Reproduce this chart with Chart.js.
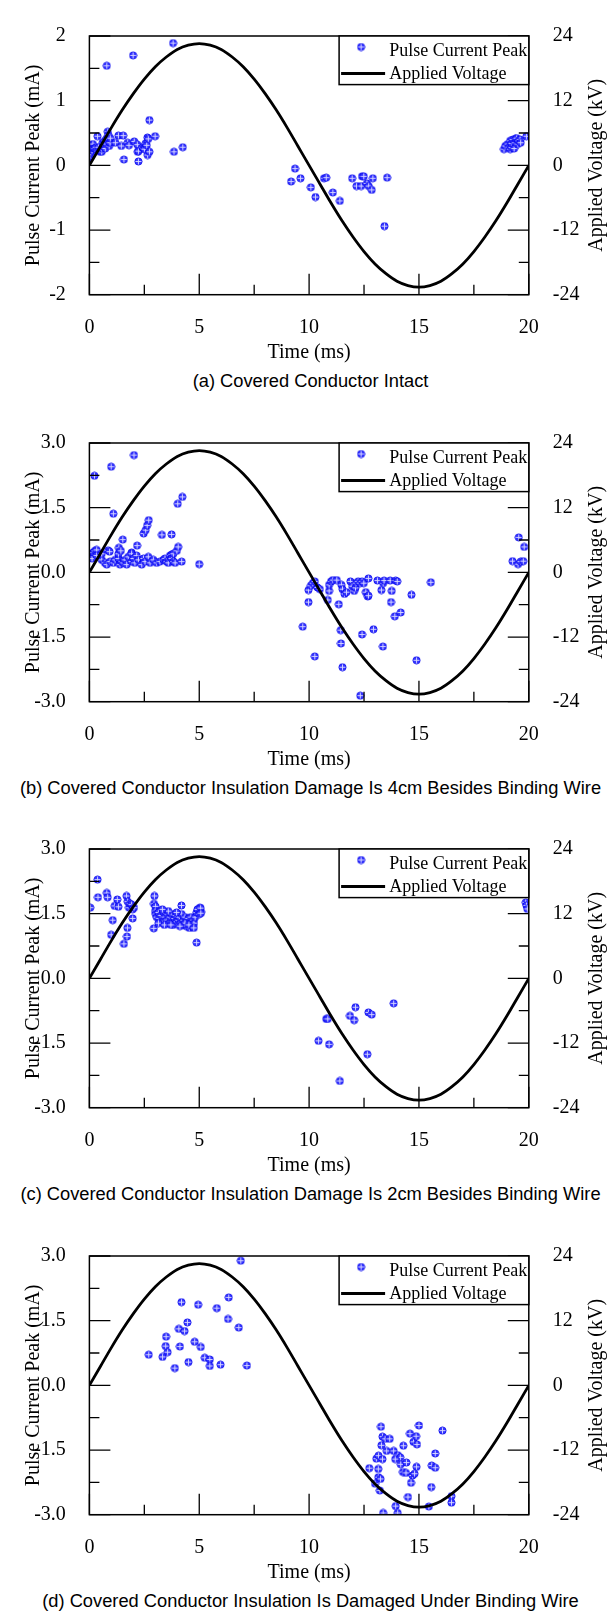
<!DOCTYPE html>
<html>
<head>
<meta charset="utf-8">
<script src="https://cdn.jsdelivr.net/npm/chart.js@4.4.1/dist/chart.umd.min.js"></script>
<style>
  body { margin: 0; width: 607px; height: 1612px; background: #fff; position: relative; overflow: hidden; }
  .panel { position: absolute; left: 0; width: 607px; height: 407px; }
  .panel canvas { position: absolute; left: 0; top: 0; }
  .caption {
    position: absolute; top: 370px; left: 310.5px; transform: translateX(-50%);
    white-space: nowrap; font-family: 'Liberation Sans', Arial, sans-serif;
    font-size: 18.3px; line-height: 22px; color: #000;
  }
</style>
</head>
<body>

<div class="panel" style="top:0px"><canvas id="chartA" width="607" height="370"></canvas>
  <div class="caption">(a) Covered Conductor Intact</div></div>
<div class="panel" style="top:407px"><canvas id="chartB" width="607" height="370"></canvas>
  <div class="caption">(b) Covered Conductor Insulation Damage Is 4cm Besides Binding Wire</div></div>
<div class="panel" style="top:813.3px"><canvas id="chartC" width="607" height="370"></canvas>
  <div class="caption">(c) Covered Conductor Insulation Damage Is 2cm Besides Binding Wire</div></div>
<div class="panel" style="top:1220px"><canvas id="chartD" width="607" height="370"></canvas>
  <div class="caption">(d) Covered Conductor Insulation Is Damaged Under Binding Wire</div></div>

<script>
// tick labels
const timeTicks = [0, 5, 10, 15, 20];
const currentTicksA = [-2, -1, 0, 1, 2];
const currentTicks = [-3, -1.5, 0, 1.5, 3];
const voltageTicks = [-24, -12, 0, 12, 24];

// applied voltage, one point every 0.5 ms (kV)
const voltageTime = [0, 0.5, 1, 1.5, 2, 2.5, 3, 3.5, 4, 4.5, 5, 5.5, 6, 6.5, 7, 7.5, 8, 8.5, 9, 9.5,
  10, 10.5, 11, 11.5, 12, 12.5, 13, 13.5, 14, 14.5, 15, 15.5, 16, 16.5, 17, 17.5, 18, 18.5, 19, 19.5, 20];
const voltage = [0, 3.5, 7.0, 10.3, 13.3, 16.0, 18.3, 20.1, 21.5, 22.3, 22.6, 22.3, 21.5, 20.1, 18.3, 16.0, 13.3, 10.3, 7.0, 3.5,
  0, -3.5, -7.0, -10.3, -13.3, -16.0, -18.3, -20.1, -21.5, -22.3, -22.6, -22.3, -21.5, -20.1, -18.3, -16.0, -13.3, -10.3, -7.0, -3.5, 0];

// pulse current peaks [time ms, current mA]
const peaksA = [
  [0.00,0.11],[0.03,0.16],[0.06,0.20],[0.04,0.26],[0.07,0.30],[0.10,0.31],[0.12,0.23],[0.13,0.27],[0.16,0.33],[0.21,0.26],
  [0.25,0.26],[0.30,0.28],[0.37,0.45],[0.41,0.28],[0.48,0.21],[0.56,0.21],[0.56,0.26],[0.60,0.35],[0.63,0.33],[0.65,0.29],
  [0.69,0.30],[0.71,0.38],[0.72,0.26],[0.78,0.40],[0.79,0.42],[0.79,0.33],[0.83,0.52],[0.86,0.47],[0.90,0.30],[0.92,0.35],
  [0.94,0.35],[0.95,0.42],[0.79,1.54],[1.18,0.35],[1.32,0.46],[1.45,0.30],[1.54,0.46],[1.57,0.09],[1.74,0.35],[1.80,0.31],
  [1.99,1.70],[2.04,0.37],[2.18,0.32],[2.20,0.21],[2.23,0.06],[2.23,0.22],[2.41,0.28],[2.47,0.26],[2.50,0.25],[2.56,0.34],
  [2.61,0.31],[2.64,0.43],[2.65,0.16],[2.68,0.41],[2.73,0.70],[2.73,0.21],[2.99,0.45],[3.81,1.89],[3.85,0.21],[4.25,0.28],
  [9.18,-0.25],[9.36,-0.05],[9.61,-0.20],[10.08,-0.34],[10.29,-0.49],[10.68,-0.20],[10.78,-0.19],[11.08,-0.42],[11.40,-0.55],
  [11.96,-0.20],[12.16,-0.32],[12.37,-0.32],[12.41,-0.17],[12.49,-0.17],[12.63,-0.28],[12.71,-0.32],[12.85,-0.38],[12.90,-0.20],
  [13.43,-0.94],[13.55,-0.19],
  [18.87,0.25],[18.93,0.30],[19.05,0.33],[19.10,0.28],[19.15,0.38],[19.15,0.25],[19.22,0.28],[19.22,0.34],[19.28,0.40],
  [19.33,0.26],[19.37,0.35],[19.40,0.41],[19.45,0.42],[19.50,0.33],[19.54,0.38],[19.60,0.40],[19.63,0.35],[19.89,0.45]
];

const peaksB = [
  [0.07,0.41],[0.10,0.43],[0.12,0.32],[0.18,0.46],[0.23,2.24],[0.25,0.50],[0.33,0.52],[0.33,0.39],[0.56,0.29],[0.56,0.43],
  [0.71,0.22],[0.79,0.18],[0.85,0.51],[0.92,0.48],[0.94,0.25],[0.99,2.45],[1.09,0.22],[1.09,1.36],[1.17,0.29],[1.32,0.32],
  [1.32,0.43],[1.34,0.57],[1.39,0.18],[1.43,0.50],[1.47,0.25],[1.52,0.76],[1.54,0.22],[1.62,0.29],[1.70,0.18],[1.77,0.36],
  [1.92,0.46],[1.92,0.25],[1.92,0.43],[2.00,0.32],[2.03,2.72],[2.07,0.22],[2.15,0.39],[2.17,0.62],[2.23,0.29],[2.38,0.18],
  [2.46,0.32],[2.47,0.90],[2.53,0.25],[2.56,0.98],[2.63,1.09],[2.68,0.36],[2.70,1.21],[2.76,0.22],[2.91,0.29],[3.06,0.22],
  [3.21,0.25],[3.30,0.87],[3.37,0.29],[3.44,0.32],[3.52,0.25],[3.59,0.22],[3.67,0.39],[3.74,0.88],[3.74,0.41],[3.74,0.32],
  [3.82,0.25],[3.82,0.43],[3.90,0.22],[3.98,0.50],[4.02,1.59],[4.04,0.59],[4.20,0.25],[4.23,1.75],[5.00,0.19],
  [9.71,-1.26],[9.97,-0.69],[9.97,-0.41],[10.08,-0.31],[10.17,-0.25],[10.26,-0.21],[10.26,-1.95],[10.38,-0.35],[10.49,-0.39],
  [10.85,-0.64],[10.91,-0.43],[10.91,-0.29],[11.00,-0.21],[11.08,-0.18],[11.26,-0.18],[11.35,-0.74],[11.44,-1.34],[11.45,-1.65],
  [11.47,-0.29],[11.52,-0.39],[11.52,-2.20],[11.61,-0.50],[11.70,-0.46],[11.88,-0.21],[11.96,-0.32],[12.05,-0.43],[12.11,-0.36],
  [12.14,-0.25],[12.23,-0.21],[12.32,-0.25],[12.33,-2.86],[12.41,-0.21],[12.41,-1.44],[12.49,-0.25],[12.58,-0.46],[12.67,-0.56],
  [12.70,-0.54],[12.70,-0.14],[12.93,-1.32],[13.11,-0.19],[13.29,-0.41],[13.36,-1.72],[13.37,-0.25],[13.41,-0.19],[13.69,-0.19],
  [13.73,-0.69],[13.76,-0.43],[13.90,-1.02],[13.94,-0.19],[14.01,-0.21],[14.17,-0.93],[14.66,-0.52],[14.89,-2.04],[15.54,-0.23],
  [19.26,0.26],[19.51,0.19],[19.54,0.81],[19.63,0.25],[19.75,0.26],[19.79,0.59]
];

const peaksC = [
  [0.04,1.64],[0.37,2.29],[0.39,1.88],[0.79,1.98],[0.83,1.88],[0.99,1.01],[1.06,1.35],[1.15,1.68],[1.27,1.83],[1.32,1.66],
  [1.57,0.80],[1.69,1.91],[1.71,0.97],[1.73,1.17],[1.74,1.78],[1.80,1.64],[1.85,1.73],[1.92,1.71],[1.97,1.60],[1.97,1.39],
  [2.03,1.64],[2.93,1.16],[2.94,1.73],[2.96,1.91],[3.01,1.67],
  [2.99,1.56],[3.02,1.49],[3.06,1.42],[3.14,1.53],[3.17,1.39],[3.26,1.46],[3.32,1.31],[3.37,1.53],[3.44,1.42],[3.52,1.35],
  [3.56,1.49],[3.62,1.28],[3.67,1.42],[3.74,1.49],[3.77,1.31],[3.82,1.24],[3.87,1.39],[3.93,1.46],[3.97,1.31],[4.05,1.35],
  [4.09,1.42],[4.15,1.28],[4.20,1.49],[4.23,1.24],[4.29,1.35],[4.35,1.42],[4.40,1.21],[4.44,1.31],[4.50,1.39],[4.55,1.17],
  [4.59,1.28],[4.62,1.42],[4.67,1.21],[4.72,1.35],[4.76,1.28],[4.81,1.42],[4.88,1.53],[4.96,1.60],[5.03,1.64],[5.08,1.54],
  [3.14,1.28],[3.41,1.24],[3.71,1.24],[4.35,1.28],[4.53,1.24],[4.12,1.21],[4.75,1.17],[3.59,1.56],[3.97,1.53],[3.32,1.60],
  [4.19,1.69],[4.88,0.83],[4.92,1.60],[5.00,1.49],[5.06,1.63],[5.07,1.51],
  [10.43,-1.45],[10.78,-0.94],[10.85,-0.94],[10.91,-1.53],[11.40,-2.38],[11.86,-0.87],[12.05,-0.97],[12.11,-0.67],
  [12.65,-1.76],[12.70,-0.79],[12.85,-0.84],[13.85,-0.58],
  [19.86,1.76],[19.89,1.69],[19.93,1.61]
];

const peaksD = [
  [6.89,2.89],[4.19,1.93],[4.95,1.87],[5.80,1.79],[6.34,2.04],[6.31,1.54],[6.80,1.34],[4.46,1.46],[4.07,1.31],[4.33,1.26],
  [3.49,1.13],[4.79,1.01],[3.47,0.91],[4.12,0.90],[5.07,0.89],[3.56,0.77],[2.70,0.71],[3.33,0.66],[5.25,0.64],[5.48,0.60],
  [4.51,0.54],[3.89,0.40],[5.48,0.45],[5.97,0.48],[7.17,0.46],
  [13.27,-0.96],[13.34,-1.19],[13.46,-1.24],[13.67,-1.24],[13.29,-1.39],[13.53,-1.52],[13.85,-1.52],[14.04,-1.62],[14.15,-1.67],
  [13.92,-1.71],[13.06,-1.70],[13.16,-1.63],[13.34,-1.71],[12.74,-1.92],[13.15,-1.94],[14.17,-1.83],[14.27,-2.01],[14.41,-2.03],
  [14.43,-1.79],[14.29,-1.40],[14.59,-1.12],[14.75,-1.31],[14.87,-1.18],[14.91,-1.37],[15.00,-0.93],[14.89,-1.89],[14.71,-2.09],
  [14.80,-2.05],[14.64,-2.26],[13.15,-2.13],[13.25,-2.17],[13.00,-2.28],[13.22,-2.44],[15.58,-1.86],[15.74,-1.91],[15.74,-1.58],
  [16.07,-1.05],[15.56,-2.36],[14.50,-2.59],[13.94,-2.80],[15.45,-2.81],[16.48,-2.57],[16.48,-2.72],[13.37,-2.96],[14.03,-2.96]
];

const serif = 'Liberation Serif, Times New Roman, serif';

// blue circle-plus marker
const marker = document.createElement('canvas');
marker.width = 9; marker.height = 9;
(function () {
  const m = marker.getContext('2d');
  m.fillStyle = '#3a3aff';
  m.beginPath(); m.arc(4.5, 4.5, 3.6, 0, Math.PI * 2); m.fill();
  m.strokeStyle = '#0000ee'; m.lineWidth = 0.8; m.stroke();
  m.strokeStyle = 'rgba(215,215,255,0.95)'; m.lineWidth = 1;
  m.beginPath(); m.moveTo(4.5, 1.5); m.lineTo(4.5, 7.5); m.moveTo(1.5, 4.5); m.lineTo(7.5, 4.5); m.stroke();
})();

// closed frame, inward tick marks, right axis title and legend box
const framePlugin = {
  id: 'framePlugin',
  afterDatasetsDraw(chart) {
    const { ctx, chartArea: a, scales } = chart;
    ctx.save();
    ctx.strokeStyle = '#000';
    ctx.lineWidth = 1.3;
    const marks = (scale, cb) => {
      const vals = scale.ticks.map(t => t.value);
      vals.forEach((v, i) => {
        cb(scale.getPixelForValue(v), 21);
        if (i < vals.length - 1) cb(scale.getPixelForValue((v + vals[i + 1]) / 2), 10);
      });
    };
    ctx.beginPath();
    marks(scales.x, (p, len) => { ctx.moveTo(p, a.bottom); ctx.lineTo(p, a.bottom - len); });
    marks(scales.y, (p, len) => { ctx.moveTo(a.left, p); ctx.lineTo(a.left + len, p); });
    marks(scales.y2, (p, len) => { ctx.moveTo(a.right, p); ctx.lineTo(a.right - len, p); });
    ctx.stroke();
    ctx.lineWidth = 1.5;
    ctx.strokeRect(a.left, a.top, a.right - a.left, a.bottom - a.top);
    ctx.restore();
  },
  afterDraw(chart) {
    const { ctx, chartArea: a } = chart;
    ctx.save();
    // right axis title, read bottom to top
    ctx.fillStyle = '#000';
    ctx.font = '20px ' + serif;
    ctx.textAlign = 'center';
    ctx.textBaseline = 'middle';
    ctx.translate(596.5, (a.top + a.bottom) / 2);
    ctx.rotate(-Math.PI / 2);
    ctx.fillText(chart.options.scales.y2.title.text, 0, 0);
    ctx.restore();

    // legend
    const ds = chart.data.datasets;
    const bx = a.right - 189.7, by = a.top, bw = 189.7, bh = 48.6;
    ctx.save();
    ctx.fillStyle = '#fff';
    ctx.fillRect(bx, by, bw, bh);
    ctx.strokeStyle = '#000';
    ctx.lineWidth = 1.5;
    ctx.strokeRect(bx, by, bw, bh);
    ctx.drawImage(marker, bx + 22 - 4.5, by + 11 - 4.5);
    ctx.lineWidth = 2.8;
    ctx.beginPath();
    ctx.moveTo(bx + 2, by + 37.5);
    ctx.lineTo(bx + 46, by + 37.5);
    ctx.stroke();
    ctx.fillStyle = '#000';
    ctx.font = '18px ' + serif;
    ctx.textAlign = 'left';
    ctx.textBaseline = 'alphabetic';
    ctx.fillText(ds[1].label, bx + 50.2, by + 20.3);
    ctx.fillText(ds[0].label, bx + 50.2, by + 42.8);
    ctx.restore();
  }
};

function makeChart(id, peaks, yTicks, yFormat) {
  const tickFont = { family: serif, size: 20 };
  return new Chart(document.getElementById(id), {
    type: 'scatter',
    data: {
      datasets: [
        {
          type: 'line',
          label: 'Applied Voltage',
          data: voltageTime.map((t, i) => ({ x: t, y: voltage[i] })),
          yAxisID: 'y2',
          borderColor: '#000',
          borderWidth: 2.8,
          pointRadius: 0,
          cubicInterpolationMode: 'monotone',
          order: 0
        },
        {
          label: 'Pulse Current Peak',
          data: peaks.map(p => ({ x: p[0], y: p[1] })),
          yAxisID: 'y',
          pointStyle: marker,
          pointRadius: 4,
          order: 1
        }
      ]
    },
    options: {
      responsive: false,
      animation: false,
      devicePixelRatio: 1,
      layout: { padding: { top: 14.7, left: 0, right: 0, bottom: 0 } },
      plugins: { legend: { display: false }, tooltip: { enabled: false } },
      scales: {
        x: {
          type: 'linear', min: 0, max: 20,
          afterBuildTicks: s => { s.ticks = timeTicks.map(v => ({ value: v })); },
          afterFit: s => { s.height = 75.3; },
          grid: { display: false, drawTicks: false, tickLength: 0 },
          border: { display: false },
          ticks: { padding: 21.3, font: tickFont, color: '#000', maxRotation: 0, autoSkip: false },
          title: { display: true, text: 'Time (ms)', font: tickFont, color: '#000', padding: { top: 0, bottom: 5 } }
        },
        y: {
          position: 'left', min: yTicks[0], max: yTicks[yTicks.length - 1],
          afterBuildTicks: s => { s.ticks = yTicks.map(v => ({ value: v })); },
          afterFit: s => { s.width = 89.4; },
          grid: { display: false, drawTicks: false, tickLength: 0 },
          border: { display: false },
          ticks: { padding: 23.6, font: tickFont, color: '#000', callback: yFormat },
          title: { display: true, text: 'Pulse Current Peak (mA)', font: tickFont, color: '#000', padding: { top: 21.5, bottom: 0 } }
        },
        y2: {
          position: 'right', min: -24, max: 24,
          afterBuildTicks: s => { s.ticks = voltageTicks.map(v => ({ value: v })); },
          afterFit: s => { s.width = 78.2; },
          grid: { display: false, drawTicks: false, tickLength: 0 },
          border: { display: false },
          ticks: { padding: 24, font: tickFont, color: '#000', callback: v => String(v) },
          title: { display: false, text: 'Applied Voltage (kV)' }
        }
      }
    },
    plugins: [framePlugin]
  });
}

makeChart('chartA', peaksA, currentTicksA, v => String(v));
makeChart('chartB', peaksB, currentTicks, v => v.toFixed(1));
makeChart('chartC', peaksC, currentTicks, v => v.toFixed(1));
makeChart('chartD', peaksD, currentTicks, v => v.toFixed(1));
</script>
</body>
</html>
